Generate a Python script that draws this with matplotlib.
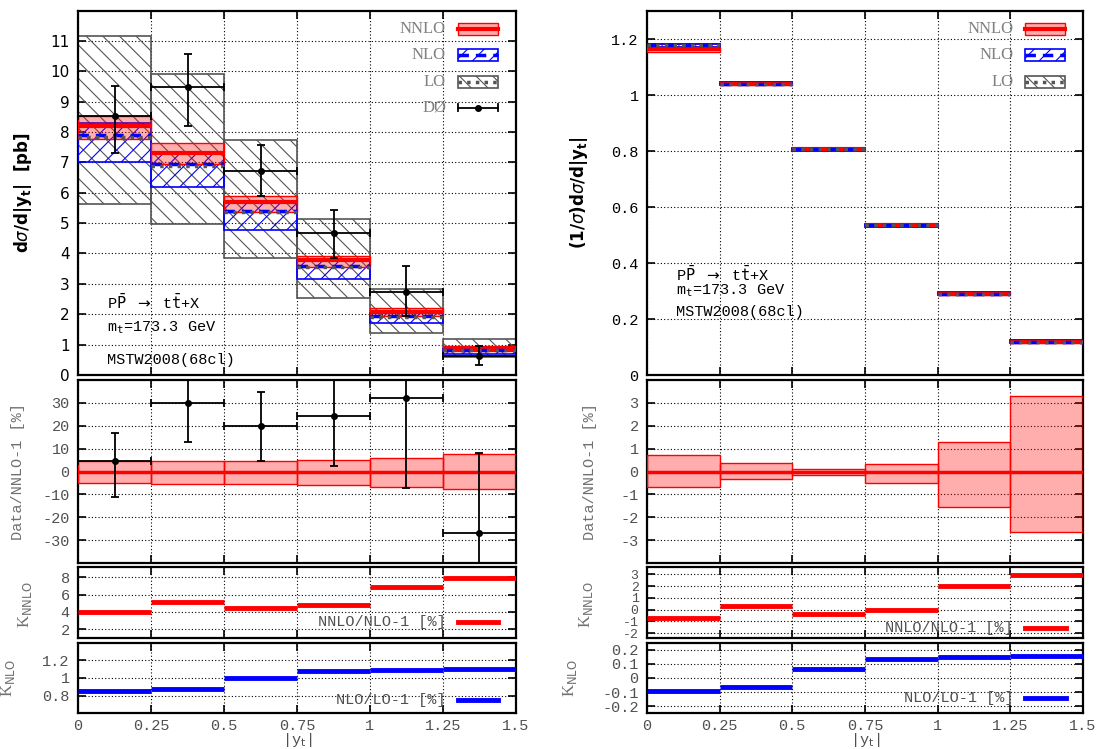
import numpy as np
import matplotlib
matplotlib.use('Agg')
import matplotlib.pyplot as plt
from matplotlib.patches import Rectangle
from matplotlib.lines import Line2D
from matplotlib.ticker import FuncFormatter, MultipleLocator

plt.rcParams['axes.unicode_minus'] = False
plt.rcParams['hatch.linewidth'] = 0.8
plt.rcParams['mathtext.fontset'] = 'dejavusans'

# ---------------------------------------------------------
# data
# ---------------------------------------------------------
edges = np.array([0.0, 0.25, 0.5, 0.75, 1.0, 1.25, 1.5])

# absolute d sigma / d|y_t| [pb]
nnlo = np.array([8.20, 7.32, 5.69, 3.77, 2.09, 0.86])
nnlo_hi = np.array([8.51, 7.63, 5.90, 3.92, 2.22, 0.94])
nnlo_lo = np.array([7.78, 6.93, 5.38, 3.54, 1.95, 0.80])
nlo = np.array([7.89, 6.93, 5.41, 3.59, 1.95, 0.81])
nlo_hi = np.array([8.28, 7.28, 5.68, 3.77, 2.05, 0.85])
nlo_lo = np.array([7.01, 6.18, 4.78, 3.15, 1.70, 0.70])
lo = np.array([7.85, 6.88, 5.37, 3.56, 1.92, 0.83])
lo_hi = np.array([11.15, 9.91, 7.72, 5.15, 2.82, 1.18])
lo_lo = np.array([5.64, 4.98, 3.85, 2.54, 1.37, 0.58])
d0 = np.array([8.52, 9.47, 6.73, 4.66, 2.74, 0.63])
d0_hi = np.array([9.51, 10.57, 7.56, 5.44, 3.59, 0.94])
d0_lo = np.array([7.31, 8.20, 5.88, 3.85, 1.95, 0.33])

# normalised (1/sigma) d sigma / d|y_t|
n_nnlo = np.array([1.163, 1.040, 0.806, 0.534, 0.291, 0.119])
n_nlo = np.array([1.177, 1.040, 0.806, 0.534, 0.291, 0.119])
n_lo = np.array([1.177, 1.040, 0.806, 0.534, 0.291, 0.119])

# Data/NNLO-1 [%]
r_band_hi = np.array([4.4, 4.7, 4.7, 5.1, 5.7, 7.6])
r_band_lo = np.array([-5.1, -5.4, -5.5, -6.0, -6.7, -7.6])
r_data = np.array([4.4, 29.8, 19.7, 24.2, 32.2, -26.8])
r_data_hi = np.array([16.6, 44.0, 34.5, 44.0, 72.0, 8.2])
r_data_lo = np.array([-10.9, 12.7, 4.7, 2.3, -7.3, -62.0])
rn_band_hi = np.array([0.70, 0.39, 0.13, 0.35, 1.28, 3.29])
rn_band_lo = np.array([-0.66, -0.33, -0.13, -0.52, -1.53, -2.65])

# K factors
k_nnlo = np.array([4.04, 5.15, 4.46, 4.81, 6.92, 7.96])
k_nlo = np.array([0.849, 0.879, 1.000, 1.079, 1.094, 1.102])
kn_nnlo = np.array([-0.74, 0.34, -0.34, -0.03, 1.97, 2.97])
kn_nlo = np.array([-0.089, -0.061, 0.061, 0.136, 0.151, 0.155])

centers = 0.5 * (edges[:-1] + edges[1:])
width = edges[1] - edges[0]

RED = '#ff0000'
PINK = (1.0, 0.0, 0.0, 0.32)
BLUE = '#0000ff'
LOGRAY = '#555555'
MONO = 'Liberation Mono'
SERIF = 'Liberation Serif'
fmt = FuncFormatter(lambda v, p: '%g' % round(v, 6))


def style(ax, ylim, ystep, tick_color='#505050', tick_font=MONO, xlabels=False, ysize=11):
    ax.set_xlim(0, 1.5)
    ax.set_ylim(*ylim)
    ax.xaxis.set_major_locator(MultipleLocator(0.25))
    ax.yaxis.set_major_locator(MultipleLocator(ystep))
    ax.xaxis.set_major_formatter(fmt)
    ax.yaxis.set_major_formatter(fmt)
    ax.grid(True, color='black', linestyle=(0, (1, 2)), linewidth=0.8)
    ax.set_axisbelow(True)
    ax.tick_params(direction='in', length=6, width=1.2, top=True, right=True,
                   labelsize=11, labelcolor=tick_color, pad=6)
    ax.tick_params(axis='x', pad=4)
    ax.tick_params(axis='y', labelsize=ysize)
    for lab in ax.get_yticklabels() + ax.get_xticklabels():
        lab.set_family(tick_font)
    if not xlabels:
        ax.tick_params(labelbottom=False)
    for s in ax.spines.values():
        s.set_linewidth(1.6)


def bands(ax, c_nnlo, c_nlo, c_lo, nn=None, nl=None, ll=None):
    if ll is not None:
        ax.bar(centers, ll[1] - ll[0], bottom=ll[0], width=width, facecolor='none',
               edgecolor=LOGRAY, hatch='\\\\', linewidth=1.2, zorder=2)
    if nl is not None:
        ax.bar(centers, nl[1] - nl[0], bottom=nl[0], width=width, facecolor='none',
               edgecolor=BLUE, hatch='//', linewidth=1.2, zorder=3)
    if nn is not None:
        ax.bar(centers, nn[1] - nn[0], bottom=nn[0], width=width, facecolor=PINK,
               edgecolor=RED, linewidth=1.0, zorder=4)
    ax.hlines(c_nnlo, edges[:-1], edges[1:], color=RED, linewidth=3, zorder=5)
    ax.hlines(c_nlo, edges[:-1], edges[1:], color=BLUE, linewidth=2.5,
              linestyle=(0, (3, 2)), zorder=6)
    ax.hlines(c_lo, edges[:-1], edges[1:], color=LOGRAY, linewidth=2.5,
              linestyle=(0, (1, 1.5)), zorder=7)


def legend_top(ax, with_data):
    rows = [0.951, 0.879, 0.805, 0.734]
    x0, x1, h = 0.868, 0.958, 0.034
    labels = ['NNLO', 'NLO', 'LO', 'DØ'] if with_data else ['NNLO', 'NLO', 'LO']
    for lab, y in zip(labels, rows):
        ax.text(0.84, y, lab, transform=ax.transAxes, ha='right', va='center',
                family=SERIF, fontsize=12, color='#808080', zorder=10)
    tr = ax.transAxes
    y = rows[0]
    ax.add_patch(Rectangle((x0, y - h / 2), x1 - x0, h, transform=tr, facecolor=PINK,
                           edgecolor=RED, linewidth=1.0, zorder=10))
    ax.add_line(Line2D([x0, x1], [y, y], transform=tr, color=RED, linewidth=3, zorder=11))
    y = rows[1]
    ax.add_patch(Rectangle((x0, y - h / 2), x1 - x0, h, transform=tr, facecolor='white',
                           edgecolor=BLUE, hatch='//', linewidth=1.2, zorder=10))
    ax.add_line(Line2D([x0, x1], [y, y], transform=tr, color=BLUE, linewidth=2.5,
                       linestyle=(0, (3, 2)), zorder=11))
    y = rows[2]
    ax.add_patch(Rectangle((x0, y - h / 2), x1 - x0, h, transform=tr, facecolor='white',
                           edgecolor=LOGRAY, hatch='\\\\', linewidth=1.2, zorder=10))
    ax.add_line(Line2D([x0, x1], [y, y], transform=tr, color=LOGRAY, linewidth=2.5,
                       linestyle=(0, (1, 1.5)), zorder=11))
    if with_data:
        y = rows[3]
        ax.add_line(Line2D([x0, x1], [y, y], transform=tr, color='black', linewidth=1.3,
                           zorder=11))
        for xx in (x0, x1):
            ax.add_line(Line2D([xx, xx], [y - 0.01, y + 0.01], transform=tr,
                               color='black', linewidth=1.3, zorder=11))
        ax.add_line(Line2D([0.5 * (x0 + x1)], [y], transform=tr, marker='o', ms=4,
                           color='black', zorder=12))


def legend_k(ax, text, color, y):
    ax.text(0.84, y, text, transform=ax.transAxes, ha='right', va='center',
            family=MONO, fontsize=11, color='#505050', zorder=10)
    ax.add_line(Line2D([0.868, 0.96], [y, y], transform=ax.transAxes, color=color,
                       linewidth=3.5, zorder=10))


def process_text(ax, ys):
    ax.text(0.066, ys[0], r'P$\mathtt{\bar{P}}$ $\rightarrow$ t$\mathtt{\bar{t}}$+X',
            transform=ax.transAxes, family=MONO, fontsize=11, va='center')
    ax.text(0.066, ys[1], r'm$_{\mathtt{t}}$=173.3 GeV', transform=ax.transAxes,
            family=MONO, fontsize=11, va='center')
    ax.text(0.066, ys[2], 'MSTW2008(68cl)', transform=ax.transAxes, family=MONO,
            fontsize=11, va='center')


fig = plt.figure(figsize=(10.99, 7.49), dpi=100)

cols = [(0.071, 0.3985), (0.5887, 0.3967)]
rows = [(0.4993, 0.486), (0.2483, 0.2443), (0.1478, 0.0948), (0.0477, 0.0942)]

axs = [[fig.add_axes([cx, ry, cw, rh]) for (ry, rh) in rows] for (cx, cw) in cols]

# ---------------- left column: absolute ----------------
ax = axs[0][0]
bands(ax, nnlo, nlo, lo, (nnlo_lo, nnlo_hi), (nlo_lo, nlo_hi), (lo_lo, lo_hi))
ax.errorbar(centers, d0, xerr=width / 2, yerr=[d0 - d0_lo, d0_hi - d0], fmt='o', ms=4,
            color='black', elinewidth=1.3, capsize=3, capthick=1.3, zorder=9)
style(ax, (0, 11.98), 1, tick_color='black', tick_font='DejaVu Sans')
ax.set_ylabel(r'd$\sigma$/d|y$_{\mathbf{t}}$|  [pb]', fontsize=12, fontweight='bold')
ax.yaxis.set_label_coords(-0.10, 0.5)
legend_top(ax, True)
process_text(ax, [0.2, 0.129, 0.041])

ax = axs[0][1]
ax.bar(centers, r_band_hi - r_band_lo, bottom=r_band_lo, width=width, facecolor=PINK,
       edgecolor=RED, linewidth=1.0, zorder=3)
ax.hlines(np.zeros(len(centers)), edges[:-1], edges[1:], color=RED, linewidth=2.5, zorder=4)
ax.errorbar(centers, r_data, xerr=width / 2, yerr=[r_data - r_data_lo, r_data_hi - r_data],
            fmt='o', ms=4, color='black', elinewidth=1.3, capsize=3, capthick=1.3, zorder=9)
style(ax, (-39.9, 39.9), 10)
ax.set_ylabel('Data/NNLO-1 [%]', family=MONO, fontsize=11, color='#707070')
ax.yaxis.set_label_coords(-0.12, 0.5)

ax = axs[0][2]
ax.hlines(k_nnlo, edges[:-1], edges[1:], color=RED, linewidth=3.5, zorder=4)
style(ax, (0.96, 9.15), 2)
ax.set_ylabel(r'K$_{\rm NNLO}$', family=SERIF, fontsize=12, color='#707070')
ax.yaxis.set_label_coords(-0.10, 0.48)
legend_k(ax, 'NNLO/NLO-1 [%]', RED, 0.235)

ax = axs[0][3]
ax.hlines(k_nlo, edges[:-1], edges[1:], color=BLUE, linewidth=3.5, zorder=4)
style(ax, (0.605, 1.395), 0.2, xlabels=True)
ax.set_ylabel(r'K$_{\rm NLO}$', family=SERIF, fontsize=12, color='#707070')
ax.yaxis.set_label_coords(-0.14, 0.5)
ax.set_xlabel(r'|y$_{\rm t}$|', family=MONO, fontsize=11, color='#505050', labelpad=-1)
legend_k(ax, 'NLO/LO-1 [%]', BLUE, 0.19)

# ---------------- right column: normalised ----------------
ax = axs[1][0]
bands(ax, n_nnlo, n_nlo, n_lo,
      (n_nnlo * (1 + rn_band_lo / 100), n_nnlo * (1 + rn_band_hi / 100)),
      (n_nlo - 0.005, n_nlo + 0.005), (n_lo - 0.006, n_lo + 0.006))
style(ax, (0, 1.3), 0.2, tick_color='black')
ax.set_ylabel(r'(1/$\sigma$)d$\sigma$/d|y$_{\mathbf{t}}$|', fontsize=12, fontweight='bold')
ax.yaxis.set_label_coords(-0.13, 0.5)
legend_top(ax, False)
process_text(ax, [0.275, 0.231, 0.173])

ax = axs[1][1]
ax.bar(centers, rn_band_hi - rn_band_lo, bottom=rn_band_lo, width=width, facecolor=PINK,
       edgecolor=RED, linewidth=1.0, zorder=3)
ax.hlines(np.zeros(len(centers)), edges[:-1], edges[1:], color=RED, linewidth=2.5, zorder=4)
style(ax, (-3.99, 3.99), 1)
ax.set_ylabel('Data/NNLO-1 [%]', family=MONO, fontsize=11, color='#707070')
ax.yaxis.set_label_coords(-0.115, 0.5)

ax = axs[1][2]
ax.hlines(kn_nnlo, edges[:-1], edges[1:], color=RED, linewidth=3.5, zorder=4)
style(ax, (-2.45, 3.6), 1, ysize=9.5)
ax.set_ylabel(r'K$_{\rm NNLO}$', family=SERIF, fontsize=12, color='#707070')
ax.yaxis.set_label_coords(-0.12, 0.48)
legend_k(ax, 'NNLO/NLO-1 [%]', RED, 0.146)

ax = axs[1][3]
ax.hlines(kn_nlo, edges[:-1], edges[1:], color=BLUE, linewidth=3.5, zorder=4)
style(ax, (-0.25, 0.25), 0.1, xlabels=True)
ax.set_ylabel(r'K$_{\rm NLO}$', family=SERIF, fontsize=12, color='#707070')
ax.yaxis.set_label_coords(-0.155, 0.5)
ax.set_xlabel(r'|y$_{\rm t}$|', family=MONO, fontsize=11, color='#505050', labelpad=-1)
legend_k(ax, 'NLO/LO-1 [%]', BLUE, 0.21)

fig.savefig('out.png', dpi=100)
